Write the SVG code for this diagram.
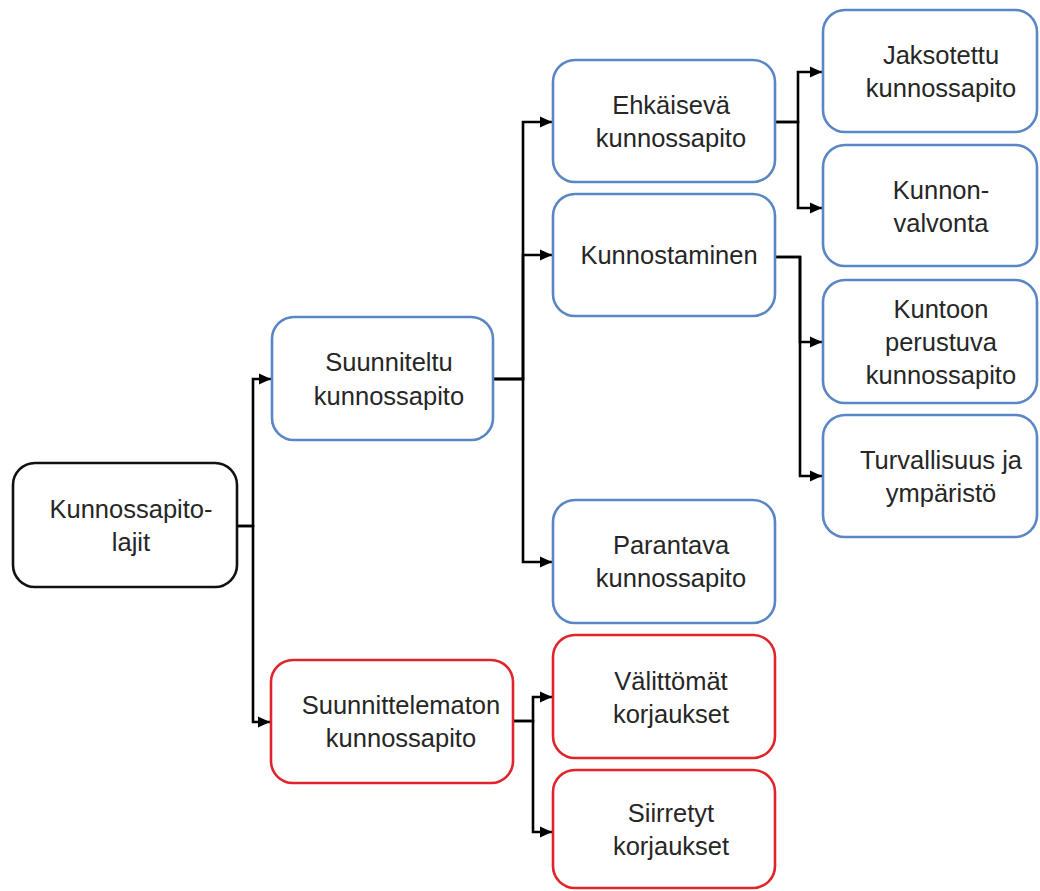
<svg xmlns="http://www.w3.org/2000/svg" width="1040" height="891" viewBox="0 0 1040 891">
<style>
.box{fill:#fff;stroke-width:2.6}
.blk{stroke:#111}
.blu{stroke:#5b86c6}
.red{stroke:#e0242a}
text{font-family:"Liberation Sans",Arial,sans-serif;font-size:25.5px;fill:#262626;text-anchor:middle}
.con{fill:none;stroke:#000;stroke-width:2.6;marker-end:url(#ah)}
</style>
<defs>
<marker id="ah" markerUnits="userSpaceOnUse" markerWidth="14" markerHeight="14" refX="12" refY="7" orient="auto">
<path d="M0,1.5 L12,7 L0,12.5 Z" fill="#000"/>
</marker>
</defs>
<rect width="1040" height="891" fill="#fff"/>
<g id="connectors">
<path class="con" d="M237,526 H253 V379 H271"/>
<path class="con" d="M237,526 H253 V722 H270"/>
<path class="con" d="M493,379 H523 V122 H552"/>
<path class="con" d="M493,379 H523 V255 H552"/>
<path class="con" d="M493,379 H523 V562 H552"/>
<path class="con" d="M775,122 H798 V72 H822"/>
<path class="con" d="M775,122 H798 V208 H822"/>
<path class="con" d="M775,257 H800 V342 H822"/>
<path class="con" d="M775,257 H800 V476 H822"/>
<path class="con" d="M513,721 H533 V697 H552"/>
<path class="con" d="M513,721 H533 V832 H552"/>
</g>
<g id="root">
<rect class="box blk" x="13" y="463" width="224" height="124" rx="22"/>
<text x="131" y="518">Kunnossapito-</text>
<text x="131" y="551">lajit</text>
</g>
<g id="suunniteltu">
<rect class="box blu" x="272" y="317" width="221" height="123" rx="22"/>
<text x="389" y="371">Suunniteltu</text>
<text x="389" y="405">kunnossapito</text>
</g>
<g id="suunnittelematon">
<rect class="box red" x="271" y="660" width="242" height="123" rx="22"/>
<text x="401" y="714">Suunnittelematon</text>
<text x="401" y="747">kunnossapito</text>
</g>
<g id="ehkaiseva">
<rect class="box blu" x="553" y="60" width="222" height="122" rx="22"/>
<text x="671" y="114">Ehkäisevä</text>
<text x="671" y="147">kunnossapito</text>
</g>
<g id="kunnostaminen">
<rect class="box blu" x="553" y="194" width="222" height="122" rx="22"/>
<text x="669" y="264">Kunnostaminen</text>
</g>
<g id="parantava">
<rect class="box blu" x="553" y="500" width="222" height="123" rx="22"/>
<text x="671" y="554">Parantava</text>
<text x="671" y="587">kunnossapito</text>
</g>
<g id="valittomat">
<rect class="box red" x="553" y="635" width="222" height="123" rx="22"/>
<text x="671" y="690">Välittömät</text>
<text x="671" y="723">korjaukset</text>
</g>
<g id="siirretyt">
<rect class="box red" x="553" y="770" width="222" height="118" rx="22"/>
<text x="671" y="822">Siirretyt</text>
<text x="671" y="855">korjaukset</text>
</g>
<g id="jaksotettu">
<rect class="box blu" x="823" y="10" width="214" height="122" rx="22"/>
<text x="941" y="64">Jaksotettu</text>
<text x="941" y="97">kunnossapito</text>
</g>
<g id="kunnonvalvonta">
<rect class="box blu" x="823" y="145" width="214" height="121" rx="22"/>
<text x="941" y="199">Kunnon-</text>
<text x="941" y="232">valvonta</text>
</g>
<g id="kuntoon">
<rect class="box blu" x="823" y="280" width="214" height="123" rx="22"/>
<text x="941" y="318">Kuntoon</text>
<text x="941" y="351">perustuva</text>
<text x="941" y="384">kunnossapito</text>
</g>
<g id="turvallisuus">
<rect class="box blu" x="823" y="415" width="214" height="122" rx="22"/>
<text x="941" y="469">Turvallisuus ja</text>
<text x="941" y="502">ympäristö</text>
</g>
</svg>
